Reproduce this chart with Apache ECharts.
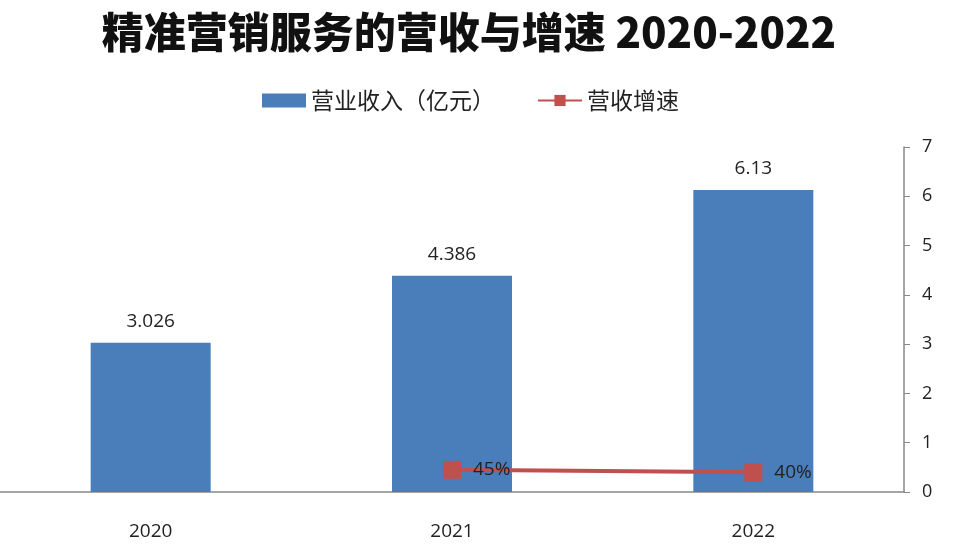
<!DOCTYPE html>
<html><head><meta charset="utf-8">
<script src="https://cdn.jsdelivr.net/npm/echarts@6/dist/echarts.min.js"></script>
<style>html,body{margin:0;padding:0;background:#fff}#c{width:960px;height:560px}</style>
</head><body><div id="c"></div>
<script>
const categories = ['2020', '2021', '2022'];
const revenue = [3.026, 4.386, 6.13];
const growth = [null, 0.45, 0.40];
const growthLabels = ['', '45%', '40%'];
const yTicks = [0, 1, 2, 3, 4, 5, 6, 7];

const chart = echarts.init(document.getElementById('c'));
chart.setOption({
  backgroundColor: '#ffffff',
  title: {
    text: '精准营销服务的营收与增速 2020-2022',
    left: 464, top: 6, textAlign: 'center',
    textStyle: { fontFamily: 'Noto Sans CJK SC', fontWeight: 900, fontSize: 42, color: '#111' }
  },
  legend: {
    top: 84, left: 257,
    itemWidth: 44, itemHeight: 14, itemGap: 42,
    textStyle: { fontFamily: 'Noto Sans CJK SC', fontSize: 23, color: '#222' },
    data: [
      { name: '营业收入（亿元）', icon: 'rect' },
      { name: '营收增速' }
    ]
  },
  grid: { left: 0, right: 56, top: 147, bottom: 68, containLabel: false },
  xAxis: {
    type: 'category', data: categories,
    axisLine: { lineStyle: { color: '#888', width: 1.5 } },
    axisTick: { show: false },
    axisLabel: { margin: 30, fontSize: 19, color: '#222', fontFamily: 'Open Sans' }
  },
  yAxis: {
    type: 'value', position: 'right', min: yTicks[0], max: yTicks[yTicks.length - 1], interval: 1,
    splitLine: { show: false },
    axisLine: { show: true, lineStyle: { color: '#888', width: 1.5 } },
    axisTick: { show: true, length: 6, lineStyle: { color: '#888' } },
    axisLabel: { margin: 18, fontSize: 18, color: '#222', fontFamily: 'Open Sans' }
  },
  series: [
    {
      name: '营业收入（亿元）', type: 'bar', data: revenue, barWidth: 120,
      itemStyle: { color: '#4a7ebb' },
      label: { show: true, position: 'top', distance: 12, fontSize: 19, color: '#222', fontFamily: 'Open Sans' }
    },
    {
      name: '营收增速', type: 'line', data: growth,
      symbol: 'rect', symbolSize: 18,
      lineStyle: { color: '#c0504d', width: 4 },
      itemStyle: { color: '#c0504d' },
      label: {
        show: true, position: 'right', distance: 12, fontSize: 19, color: '#222', fontFamily: 'Open Sans',
        formatter: p => growthLabels[p.dataIndex]
      }
    }
  ]
});
</script></body></html>
